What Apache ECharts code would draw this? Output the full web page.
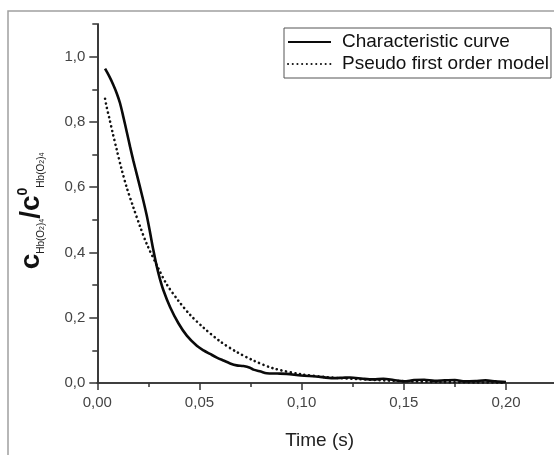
<!DOCTYPE html>
<html>
<head>
<meta charset="utf-8">
<script src="https://cdn.jsdelivr.net/npm/echarts@6/dist/echarts.min.js"></script>
<style>html,body{margin:0;padding:0;background:#fff}#c{width:554px;height:455px}</style>
</head>
<body>
<div id="c"></div>
<script>
// ---- data ----
var charTime = [0.0038,0.0060,0.0078,0.0095,0.0111,0.0128,0.0144,0.0160,0.0176,0.0193,0.0209,0.0226,0.0242,0.0258,0.0274,0.0290,0.0305,0.0323,0.0356,0.0397,0.0438,0.0487,0.0520,0.0552,0.0585,0.0617,0.0650,0.0682,0.0715,0.0747,0.0764,0.0800,0.0829,0.0880,0.0927,0.0997,0.1070,0.1155,0.1200,0.1237,0.1300,0.1350,0.1400,0.1450,0.1500,0.1550,0.1600,0.1650,0.1700,0.1750,0.1800,0.1850,0.1900,0.1950,0.2000];
var charValue = [0.963,0.938,0.914,0.888,0.858,0.814,0.770,0.725,0.682,0.640,0.600,0.557,0.513,0.462,0.408,0.360,0.322,0.285,0.233,0.183,0.145,0.114,0.100,0.089,0.078,0.069,0.060,0.054,0.052,0.047,0.041,0.035,0.030,0.029,0.028,0.023,0.020,0.015,0.016,0.017,0.013,0.011,0.013,0.009,0.005,0.009,0.010,0.007,0.008,0.009,0.005,0.006,0.008,0.005,0.003];
var modelTime = [0.0038,0.0046,0.0059,0.0075,0.0095,0.0119,0.0144,0.0176,0.0209,0.0242,0.0299,0.0340,0.0397,0.0454,0.0519,0.0600,0.0682,0.0764,0.0861,0.0997,0.1120,0.1270,0.1486,0.1677,0.2000];
var modelValue = [0.871,0.845,0.811,0.767,0.715,0.655,0.599,0.539,0.480,0.426,0.351,0.302,0.252,0.209,0.170,0.128,0.095,0.069,0.045,0.027,0.018,0.012,0.006,0.003,0.001];
var seriesNames = ['Characteristic curve', 'Pseudo first order model'];
var xMajorTicks = [0, 0.05, 0.10, 0.15, 0.20];
var xMinorTicks = [0.025, 0.075, 0.125, 0.175];
var yMajorTicks = [0, 0.2, 0.4, 0.6, 0.8, 1.0];
var yMinorTicks = [0.1, 0.3, 0.5, 0.7, 0.9, 1.1];
var xTitle = 'Time (s)';

function pairs(xs, ys) { return xs.map(function (x, i) { return [x, ys[i]]; }); }

var FONT = '"Liberation Sans", Arial, sans-serif';
var AX = '#333';
var chart = echarts.init(document.getElementById('c'), null, {renderer: 'canvas'});

var commonX = {
  type: 'value', min: 0, max: 0.2235,
  axisLine: {show: true, onZero: false, lineStyle: {color: AX, width: 1.6}},
  splitLine: {show: false}
};
var commonY = {
  type: 'value', min: 0, max: 1.1,
  axisLine: {show: true, onZero: false, lineStyle: {color: AX, width: 1.6}},
  splitLine: {show: false}
};

chart.setOption({
  animation: false,
  backgroundColor: '#fff',
  grid: {left: 97.3, right: 0, top: 24, bottom: 60},
  xAxis: [
    Object.assign({}, commonX, {
      name: xTitle, nameLocation: 'middle', nameGap: 48,
      nameTextStyle: {fontFamily: FONT, fontSize: 19, color: '#222', padding: [0, 12, 0, 0]},
      axisTick: {show: true, length: 7, customValues: xMajorTicks, lineStyle: {color: AX, width: 1.5}},
      axisLabel: {show: true, margin: 12, customValues: xMajorTicks, fontFamily: FONT, fontSize: 15, color: '#444',
        formatter: function (v) { return v.toFixed(2).replace('.', ','); }}
    }),
    Object.assign({}, commonX, {
      position: 'bottom',
      axisTick: {show: true, length: 4, customValues: xMinorTicks, lineStyle: {color: AX, width: 1.5}},
      axisLabel: {show: false}
    })
  ],
  yAxis: [
    Object.assign({}, commonY, {
      axisTick: {show: true, length: 8, customValues: yMajorTicks, lineStyle: {color: AX, width: 1.5}},
      axisLabel: {show: true, margin: 12, customValues: yMajorTicks, fontFamily: FONT, fontSize: 15, color: '#444',
        formatter: function (v) { return v.toFixed(1).replace('.', ','); }}
    }),
    Object.assign({}, commonY, {
      position: 'left',
      axisTick: {show: true, length: 5, customValues: yMinorTicks, lineStyle: {color: AX, width: 1.5}},
      axisLabel: {show: false}
    })
  ],
  legend: {
    orient: 'vertical', left: 284, top: 28,
    padding: [3, 2, 3, 3], itemGap: 0, itemWidth: 43, itemHeight: 14,
    borderColor: '#555', borderWidth: 1, borderRadius: 0,
    itemStyle: {opacity: 0},
    textStyle: {fontFamily: FONT, fontSize: 19, color: '#111', lineHeight: 22, padding: [0, 0, 0, 6]},
    data: seriesNames
  },
  graphic: [
    {type: 'rect', shape: {x: 8, y: 11, width: 700, height: 600}, style: {fill: 'none', stroke: '#a0a0a0', lineWidth: 1.5}, silent: true, z: -10},
    {type: 'text', x: 31, y: 211, rotation: Math.PI / 2, silent: true,
      style: {
        text: '{c|c}{s|Hb(O}{ss|2}{s|)}{ss|4}{c|/c}{p|0}{s|Hb(O}{ss|2}{s|)}{ss|4}',
        align: 'center', verticalAlign: 'middle', fill: '#111',
        rich: {
          c: {fontFamily: FONT, fontSize: 28, fontWeight: 'bold', fill: '#111', lineHeight: 30, verticalAlign: 'middle'},
          p: {fontFamily: FONT, fontSize: 14, fontWeight: 'bold', fill: '#111', lineHeight: 30, verticalAlign: 'top', padding: [0, 0, 14, 0]},
          s: {fontFamily: FONT, fontSize: 10, fill: '#222', lineHeight: 30, verticalAlign: 'bottom'},
          ss: {fontFamily: FONT, fontSize: 7, fill: '#222', lineHeight: 30, verticalAlign: 'bottom'}
        }
      }
    }
  ],
  series: [
    {name: seriesNames[0], type: 'line', xAxisIndex: 0, yAxisIndex: 0, data: pairs(charTime, charValue),
      symbol: 'none', smooth: 0.3, lineStyle: {color: '#0a0a0a', width: 2.6}, itemStyle: {color: '#0a0a0a'}, z: 3},
    {name: seriesNames[1], type: 'line', xAxisIndex: 0, yAxisIndex: 0, data: pairs(modelTime, modelValue),
      symbol: 'none', smooth: 0.3, lineStyle: {color: '#111', width: 2.6, cap: 'round', type: [0.1, 4.6]}, itemStyle: {color: '#111'}, z: 2}
  ]
});
</script>
</body>
</html>
